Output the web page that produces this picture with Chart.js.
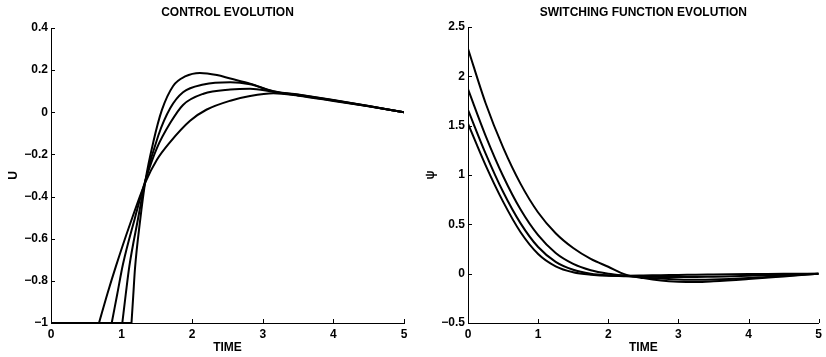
<!DOCTYPE html>
<html lang="en">
<head>
  <meta charset="UTF-8" />
  <title>Control and switching function evolution</title>
  <script src="https://cdn.jsdelivr.net/npm/chart.js"></script>
  <style>
    html, body { margin: 0; padding: 0; background: #fff; }
    #wrap { position: relative; width: 826px; height: 357px; }
    canvas { position: absolute; top: 0; }
    #controlChart { left: 0; }
    #psiChart { left: 413px; }
  </style>
</head>
<body>
  <div id="wrap">
    <canvas id="controlChart" width="413" height="357"></canvas>
    <canvas id="psiChart" width="413" height="357"></canvas>
  </div>

  <script>
    // control u(t), four runs (each leaves u = -1 at a different time)
    const uTime1 = [0, 0.68, 0.8, 0.92, 1.12, 1.34, 1.5, 1.69, 1.97, 2.2, 2.54, 2.82, 3.15, 3.5, 4, 4.5, 5];
    const u1     = [-1, -1, -0.86, -0.73, -0.53, -0.33, -0.225, -0.14, -0.04, 0.012, 0.055, 0.077, 0.09, 0.079, 0.054, 0.028, 0];

    const uTime2 = [0, 0.86, 0.94, 1.02, 1.19, 1.34, 1.5, 1.69, 1.87, 2.16, 2.54, 2.82, 3.15, 3.5, 4, 4.5, 5];
    const u2     = [-1, -1, -0.86, -0.72, -0.5, -0.32, -0.17, -0.05, 0.035, 0.088, 0.108, 0.112, 0.097, 0.081, 0.056, 0.029, 0];

    const uTime3 = [0, 1.01, 1.06, 1.11, 1.23, 1.34, 1.52, 1.69, 1.87, 2.16, 2.54, 2.82, 3.15, 3.5, 4, 4.5, 5];
    const u3     = [-1, -1, -0.86, -0.73, -0.51, -0.32, -0.11, 0.02, 0.095, 0.132, 0.143, 0.133, 0.099, 0.083, 0.057, 0.03, 0];

    const uTime4 = [0, 1.14, 1.165, 1.19, 1.26, 1.34, 1.45, 1.57, 1.73, 1.9, 2.11, 2.35, 2.54, 2.82, 3.15, 3.5, 4, 4.5, 5];
    const u4     = [-1, -1, -0.87, -0.74, -0.52, -0.32, -0.14, 0.01, 0.125, 0.17, 0.187, 0.177, 0.16, 0.136, 0.1, 0.084, 0.058, 0.03, 0];

    // switching function psi(t), same four runs
    const psiTime = [0, 0.25, 0.5, 0.75, 1, 1.25, 1.5, 1.75, 2, 2.25, 2.5, 2.75, 3, 3.25, 3.5, 4, 4.5, 5];
    const psi1 = [2.28, 1.73, 1.28, 0.91, 0.62, 0.41, 0.26, 0.15, 0.07, -0.01, -0.045, -0.07, -0.082, -0.085, -0.078, -0.055, -0.028, 0];
    const psi2 = [1.87, 1.40, 0.99, 0.65, 0.39, 0.21, 0.10, 0.035, 0.0, -0.02, -0.036, -0.05, -0.058, -0.062, -0.06, -0.045, -0.022, 0];
    const psi3 = [1.66, 1.22, 0.83, 0.51, 0.27, 0.12, 0.04, 0.0, -0.018, -0.026, -0.03, -0.033, -0.035, -0.034, -0.03, -0.022, -0.01, 0];
    const psi4 = [1.52, 1.10, 0.73, 0.42, 0.20, 0.075, 0.015, -0.01, -0.02, -0.02, -0.018, -0.015, -0.013, -0.01, -0.008, -0.004, 0, 0];

    const FONT = 'Arial, "Liberation Sans", Helvetica, sans-serif';

    function toPoints(xs, ys) {
      return xs.map((x, i) => ({ x: x, y: ys[i] }));
    }

    function lineSet(xs, ys) {
      return {
        data: toPoints(xs, ys),
        borderColor: '#000',
        borderWidth: 2,
        pointRadius: 0,
        fill: false,
        cubicInterpolationMode: 'monotone'
      };
    }

    // the flat u = -1 part and the rest are drawn separately so the switch stays a sharp corner
    function controlSets(xs, ys) {
      return [lineSet(xs.slice(0, 2), ys.slice(0, 2)), lineSet(xs.slice(1), ys.slice(1))];
    }

    const fmt = v => String(+Number(v).toFixed(2)).replace('-', '\u2212');

    // matlab-style ticks pointing into the plot
    const inwardTicks = {
      id: 'inwardTicks',
      afterDatasetsDraw(chart) {
        const { ctx, chartArea, scales } = chart;
        ctx.save();
        ctx.strokeStyle = '#000';
        ctx.lineWidth = 1;
        ctx.beginPath();
        scales.x.ticks.forEach(t => {
          const px = Math.round(scales.x.getPixelForValue(t.value)) + 0.5;
          ctx.moveTo(px, chartArea.bottom);
          ctx.lineTo(px, chartArea.bottom - 4);
        });
        scales.y.ticks.forEach(t => {
          const py = Math.round(scales.y.getPixelForValue(t.value)) + 0.5;
          ctx.moveTo(chartArea.left, py);
          ctx.lineTo(chartArea.left + 4, py);
        });
        ctx.stroke();
        ctx.restore();
      }
    };

    function makeChart(id, opts) {
      const ctx = document.getElementById(id).getContext('2d');
      const txt = { family: FONT, size: 12, weight: 'bold' };
      return new Chart(ctx, {
        type: 'line',
        data: { datasets: opts.datasets },
        options: {
          responsive: false,
          animation: false,
          devicePixelRatio: 1,
          layout: { padding: { left: 0, right: opts.padRight, top: 0, bottom: 0 } },
          plugins: {
            legend: { display: false },
            tooltip: { enabled: false },
            title: {
              display: true,
              text: opts.title,
              fullSize: false,
              color: '#000',
              font: txt,
              padding: { top: 5, bottom: opts.titleGap }
            }
          },
          scales: {
            x: {
              type: 'linear',
              min: 0,
              max: 5,
              border: { display: true, color: '#000', width: 1 },
              grid: { drawOnChartArea: false, drawTicks: false },
              ticks: { stepSize: 1, color: '#000', padding: 4, font: txt, callback: fmt },
              title: { display: true, text: 'TIME', color: '#000', font: txt, padding: { top: 0, bottom: 2 } },
              afterFit: s => { s.height = 34; }
            },
            y: {
              min: opts.yMin,
              max: opts.yMax,
              border: { display: true, color: '#000', width: 1 },
              grid: { drawOnChartArea: false, drawTicks: false },
              ticks: { stepSize: opts.yStep, color: '#000', padding: 3, font: txt, callback: fmt },
              title: { display: true, text: opts.yTitle, color: '#000', font: txt, padding: { top: opts.yTitlePad, bottom: 0 } },
              afterFit: s => { s.width = opts.yWidth; }
            }
          }
        },
        plugins: [inwardTicks]
      });
    }

    makeChart('controlChart', {
      title: 'CONTROL EVOLUTION',
      yTitle: 'U',
      yMin: -1, yMax: 0.4, yStep: 0.2,
      yWidth: 51, yTitlePad: 6,
      padRight: 9, titleGap: 8.6,
      datasets: [].concat(controlSets(uTime1, u1), controlSets(uTime2, u2), controlSets(uTime3, u3), controlSets(uTime4, u4))
    });

    makeChart('psiChart', {
      title: 'SWITCHING FUNCTION EVOLUTION',
      yTitle: '\u03C8',
      yMin: -0.5, yMax: 2.5, yStep: 0.5,
      yWidth: 55, yTitlePad: 10.5,
      padRight: 5, titleGap: 7.6,
      datasets: [lineSet(psiTime, psi1), lineSet(psiTime, psi2), lineSet(psiTime, psi3), lineSet(psiTime, psi4)]
    });
  </script>
</body>
</html>
